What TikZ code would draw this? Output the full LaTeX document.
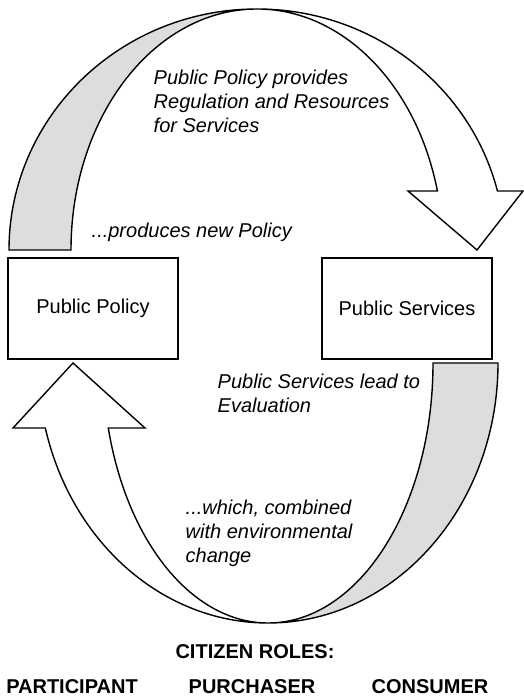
\documentclass[tikz,border=0pt]{standalone}
\usepackage{fontspec}
\setmainfont{Liberation Sans}
\usepackage{tikz}
\definecolor{band}{HTML}{DCDDDF}

\begin{document}
\begin{tikzpicture}[x=0.5pt,y=0.5pt,line width=0.7pt,
  box/.style={draw,minimum width=85pt,minimum height=50.5pt,inner sep=0pt},
  note/.style={font=\itshape,align=left,anchor=west,inner sep=0pt},
  role/.style={font=\bfseries,inner sep=0pt}]
\useasboundingbox (0,0) rectangle (524,697);
% upper ribbon: grey back half, then the white half ending in the head
\filldraw[fill=band] (9,447) arc[start angle=180,end angle=90,x radius=248,y radius=241]
  arc[start angle=90,end angle=180,x radius=186,y radius=241] -- cycle;
\filldraw[fill=white] (257,688) arc[start angle=90,end angle=14.17,x radius=248,y radius=241]
  -- (523,506) -- (477,447) -- (408,506) -- (437.4,506)
  arc[start angle=14.17,end angle=90,x radius=186,y radius=241] -- cycle;
% lower ribbon
\filldraw[fill=band] (433,334) arc[start angle=0,end angle=-90,x radius=165,y radius=260]
  arc[start angle=-90,end angle=0,x radius=230,y radius=260] -- cycle;
\filldraw[fill=white] (268,74) arc[start angle=270,end angle=194.48,x radius=230,y radius=260]
  -- (13,269) -- (73,334) -- (145,269) -- (108.3,269)
  arc[start angle=194.48,end angle=270,x radius=165,y radius=260] -- cycle;
% the two boxes
\node[box] (policy) at (93,388.5) {Public Policy};
\node[box] (services) at (407,388.5) {Public Services};
% texts along the cycle
\node[note] (provides) at (153,596) {Public Policy provides\\Regulation and Resources\\for Services};
\node[note] (produces) at (91,465) {...produces new Policy};
\node[note] (lead) at (217,304) {Public Services lead to\\Evaluation};
\node[note] (combined) at (185,164) {...which, combined\\with environmental\\change};
% roles underneath
\node[role] (roles) at (255,45) {CITIZEN ROLES:};
\node[role] (participant) at (72,10) {PARTICIPANT};
\node[role] (purchaser) at (252,10) {PURCHASER};
\node[role] (consumer) at (430,10) {CONSUMER};
\end{tikzpicture}
\end{document}
